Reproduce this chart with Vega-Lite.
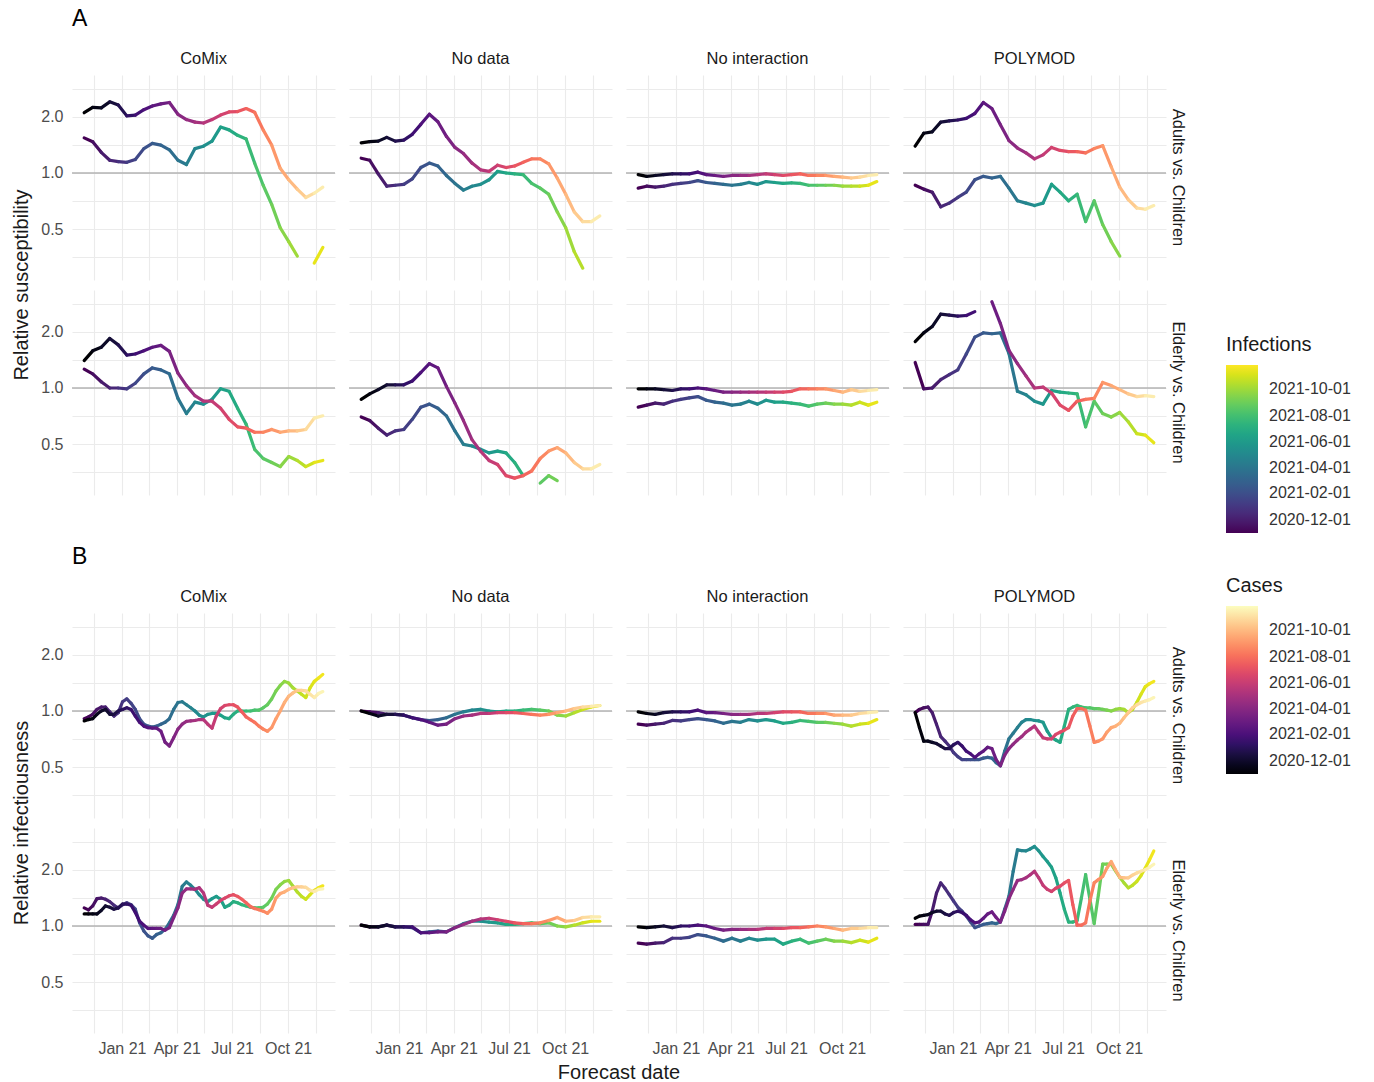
{
  "$schema": "https://vega.github.io/schema/vega-lite/v6.json",
  "background": "white",
  "padding": {"left": 11, "top": 7, "right": 5, "bottom": 0},
  "config": {
    "font": "Liberation Sans",
    "view": {"stroke": null},
    "axis": {"domain": false, "ticks": false, "grid": true, "gridColor": "#ebebeb", "gridWidth": 1.1, "labelFont": "Liberation Sans", "labelFontSize": 16, "labelColor": "#4d4d4d", "titleFont": "Liberation Sans", "titleFontSize": 20, "titleFontWeight": "normal", "titleColor": "#1a1a1a"},
    "header": {"labelFont": "Liberation Sans", "labelFontSize": 16.5, "labelColor": "#1a1a1a", "titleFont": "Liberation Sans", "titleFontSize": 20, "titleFontWeight": "normal", "titleColor": "#1a1a1a"},
    "legend": {"labelFont": "Liberation Sans", "labelFontSize": 16, "labelColor": "#333333", "titleFont": "Liberation Sans", "titleFontSize": 20, "titleFontWeight": "normal", "titleColor": "#1a1a1a", "gradientLength": 168, "gradientThickness": 32, "gradientStrokeWidth": 0, "labelOffset": 11, "titlePadding": 10},
    "title": {"anchor": "start", "fontSize": 23, "fontWeight": "normal", "font": "Liberation Sans", "color": "#000000", "frame": "group"}
  },
  "datasets": {
    "series": [
      {"key": "A_CM_Ad_C", "m": "CoMix", "r": "Adults vs. Children", "t": "Cases"},
      {"key": "A_CM_Ad_I", "m": "CoMix", "r": "Adults vs. Children", "t": "Infections"},
      {"key": "A_CM_Ad_I2", "m": "CoMix", "r": "Adults vs. Children", "t": "Infections"},
      {"key": "A_ND_Ad_C", "m": "No data", "r": "Adults vs. Children", "t": "Cases"},
      {"key": "A_ND_Ad_I", "m": "No data", "r": "Adults vs. Children", "t": "Infections"},
      {"key": "A_NI_Ad_C", "m": "No interaction", "r": "Adults vs. Children", "t": "Cases"},
      {"key": "A_NI_Ad_I", "m": "No interaction", "r": "Adults vs. Children", "t": "Infections"},
      {"key": "A_PM_Ad_C", "m": "POLYMOD", "r": "Adults vs. Children", "t": "Cases"},
      {"key": "A_PM_Ad_I", "m": "POLYMOD", "r": "Adults vs. Children", "t": "Infections"},
      {"key": "A_CM_El_C", "m": "CoMix", "r": "Elderly vs. Children", "t": "Cases"},
      {"key": "A_CM_El_I", "m": "CoMix", "r": "Elderly vs. Children", "t": "Infections"},
      {"key": "A_ND_El_C", "m": "No data", "r": "Elderly vs. Children", "t": "Cases"},
      {"key": "A_ND_El_I", "m": "No data", "r": "Elderly vs. Children", "t": "Infections"},
      {"key": "A_ND_El_I2", "m": "No data", "r": "Elderly vs. Children", "t": "Infections"},
      {"key": "A_NI_El_C", "m": "No interaction", "r": "Elderly vs. Children", "t": "Cases"},
      {"key": "A_NI_El_I", "m": "No interaction", "r": "Elderly vs. Children", "t": "Infections"},
      {"key": "A_PM_El_C", "m": "POLYMOD", "r": "Elderly vs. Children", "t": "Cases"},
      {"key": "A_PM_El_C2", "m": "POLYMOD", "r": "Elderly vs. Children", "t": "Cases"},
      {"key": "A_PM_El_I", "m": "POLYMOD", "r": "Elderly vs. Children", "t": "Infections"},
      {"key": "B_CM_Ad_C", "m": "CoMix", "r": "Adults vs. Children", "t": "Cases"},
      {"key": "B_CM_Ad_I", "m": "CoMix", "r": "Adults vs. Children", "t": "Infections"},
      {"key": "B_ND_Ad_C", "m": "No data", "r": "Adults vs. Children", "t": "Cases"},
      {"key": "B_ND_Ad_I", "m": "No data", "r": "Adults vs. Children", "t": "Infections"},
      {"key": "B_NI_Ad_C", "m": "No interaction", "r": "Adults vs. Children", "t": "Cases"},
      {"key": "B_NI_Ad_I", "m": "No interaction", "r": "Adults vs. Children", "t": "Infections"},
      {"key": "B_PM_Ad_C", "m": "POLYMOD", "r": "Adults vs. Children", "t": "Cases"},
      {"key": "B_PM_Ad_I", "m": "POLYMOD", "r": "Adults vs. Children", "t": "Infections"},
      {"key": "B_CM_El_C", "m": "CoMix", "r": "Elderly vs. Children", "t": "Cases"},
      {"key": "B_CM_El_I", "m": "CoMix", "r": "Elderly vs. Children", "t": "Infections"},
      {"key": "B_ND_El_C", "m": "No data", "r": "Elderly vs. Children", "t": "Cases"},
      {"key": "B_ND_El_I", "m": "No data", "r": "Elderly vs. Children", "t": "Infections"},
      {"key": "B_NI_El_C", "m": "No interaction", "r": "Elderly vs. Children", "t": "Cases"},
      {"key": "B_NI_El_I", "m": "No interaction", "r": "Elderly vs. Children", "t": "Infections"},
      {"key": "B_PM_El_C", "m": "POLYMOD", "r": "Elderly vs. Children", "t": "Cases"},
      {"key": "B_PM_El_I", "m": "POLYMOD", "r": "Elderly vs. Children", "t": "Infections"}
    ]
  },
  "data": {
    "format": {"parse": {"d": "date"}},
    "values": [
      {"d":"2020-10-31","A_CM_Ad_C":2.1,"A_CM_Ad_I":1.54,"A_ND_Ad_C":1.45,"A_ND_Ad_I":1.2,"A_NI_Ad_C":0.98,"A_NI_Ad_I":0.83,"A_PM_Ad_C":1.39,"A_PM_Ad_I":0.86,"A_CM_El_C":1.4,"A_CM_El_I":1.26,"A_ND_El_C":0.87,"A_ND_El_I":0.7,"A_NI_El_C":0.99,"A_NI_El_I":0.79,"A_PM_El_C":1.77,"A_PM_El_I":1.37,"B_ND_Ad_C":1.0,"B_ND_Ad_I":1.0,"B_NI_Ad_C":0.99,"B_NI_Ad_I":0.85,"B_ND_El_C":1.01,"B_ND_El_I":1.01,"B_NI_El_C":0.99,"B_NI_El_I":0.81,"B_CM_Ad_C":0.885,"B_CM_Ad_I":0.91,"B_PM_Ad_C":0.98,"B_PM_Ad_I":0.98,"B_CM_El_C":1.16,"B_CM_El_I":1.25,"B_PM_El_C":1.1,"B_PM_El_I":1.02},
      {"d":"2020-11-07","B_CM_Ad_C":0.9,"B_CM_Ad_I":0.93,"B_PM_Ad_C":0.815,"B_PM_Ad_I":1.02,"B_CM_El_C":1.16,"B_CM_El_I":1.22,"B_PM_El_C":1.13,"B_PM_El_I":1.02},
      {"d":"2020-11-14","A_CM_Ad_C":2.24,"A_CM_Ad_I":1.47,"A_ND_Ad_C":1.47,"A_ND_Ad_I":1.17,"A_NI_Ad_C":0.96,"A_NI_Ad_I":0.85,"A_PM_Ad_C":1.63,"A_PM_Ad_I":0.82,"A_CM_El_C":1.58,"A_CM_El_I":1.19,"A_ND_El_C":0.93,"A_ND_El_I":0.67,"A_NI_El_C":0.99,"A_NI_El_I":0.81,"A_PM_El_C":1.97,"A_PM_El_I":0.99,"B_ND_Ad_C":0.97,"B_ND_Ad_I":0.99,"B_NI_Ad_C":0.97,"B_NI_Ad_I":0.84,"B_ND_El_C":0.99,"B_ND_El_I":0.99,"B_NI_El_C":0.98,"B_NI_El_I":0.8,"B_CM_Ad_C":0.91,"B_CM_Ad_I":0.96,"B_PM_Ad_C":0.69,"B_PM_Ad_I":1.04,"B_CM_El_C":1.16,"B_CM_El_I":1.28,"B_PM_El_C":1.14,"B_PM_El_I":1.02},
      {"d":"2020-11-21","B_CM_Ad_C":0.96,"B_CM_Ad_I":1.02,"B_PM_Ad_C":0.69,"B_PM_Ad_I":1.05,"B_CM_El_C":1.16,"B_CM_El_I":1.4,"B_PM_El_C":1.15,"B_PM_El_I":1.02},
      {"d":"2020-11-28","A_CM_Ad_C":2.23,"A_CM_Ad_I":1.29,"A_ND_Ad_C":1.48,"A_ND_Ad_I":0.99,"A_NI_Ad_C":0.97,"A_NI_Ad_I":0.84,"A_PM_Ad_C":1.66,"A_PM_Ad_I":0.79,"A_CM_El_C":1.65,"A_CM_El_I":1.08,"A_ND_El_C":0.98,"A_ND_El_I":0.61,"A_NI_El_C":0.99,"A_NI_El_I":0.83,"A_PM_El_C":2.13,"A_PM_El_I":1.0,"B_ND_Ad_C":0.94,"B_ND_Ad_I":0.98,"B_NI_Ad_C":0.96,"B_NI_Ad_I":0.85,"B_ND_El_C":0.99,"B_ND_El_I":0.99,"B_NI_El_C":0.99,"B_NI_El_I":0.81,"B_CM_Ad_C":1.0,"B_CM_Ad_I":1.05,"B_PM_Ad_C":0.68,"B_PM_Ad_I":0.98,"B_CM_El_C":1.21,"B_CM_El_I":1.41,"B_PM_El_C":1.18,"B_PM_El_I":1.2},
      {"d":"2020-12-05","B_CM_Ad_C":1.02,"B_CM_Ad_I":1.05,"B_PM_Ad_C":0.67,"B_PM_Ad_I":0.85,"B_CM_El_C":1.28,"B_CM_El_I":1.39,"B_PM_El_C":1.2,"B_PM_El_I":1.5},
      {"d":"2020-12-12","A_CM_Ad_C":2.4,"A_CM_Ad_I":1.17,"A_ND_Ad_C":1.55,"A_ND_Ad_I":0.85,"A_NI_Ad_C":0.98,"A_NI_Ad_I":0.85,"A_PM_Ad_C":1.87,"A_PM_Ad_I":0.66,"A_CM_El_C":1.84,"A_CM_El_I":1.0,"A_ND_El_C":1.04,"A_ND_El_I":0.56,"A_NI_El_C":0.98,"A_NI_El_I":0.82,"A_PM_El_C":2.48,"A_PM_El_I":1.11,"B_ND_Ad_C":0.96,"B_ND_Ad_I":0.96,"B_NI_Ad_C":0.98,"B_NI_Ad_I":0.86,"B_ND_El_C":1.01,"B_ND_El_I":1.01,"B_NI_El_C":1.0,"B_NI_El_I":0.815,"B_CM_Ad_C":0.96,"B_CM_Ad_I":0.99,"B_PM_Ad_C":0.65,"B_PM_Ad_I":0.73,"B_CM_El_C":1.26,"B_CM_El_I":1.35,"B_PM_El_C":1.2,"B_PM_El_I":1.7},
      {"d":"2020-12-19","B_CM_Ad_C":0.96,"B_CM_Ad_I":0.94,"B_PM_Ad_C":0.63,"B_PM_Ad_I":0.69,"B_CM_El_C":1.23,"B_CM_El_I":1.29,"B_PM_El_C":1.16,"B_PM_El_I":1.59},
      {"d":"2020-12-26","A_CM_Ad_C":2.31,"A_CM_Ad_I":1.15,"A_ND_Ad_C":1.48,"A_ND_Ad_I":0.86,"A_NI_Ad_C":0.99,"A_NI_Ad_I":0.87,"A_PM_Ad_C":1.9,"A_PM_Ad_I":0.69,"A_CM_El_C":1.7,"A_CM_El_I":1.0,"A_ND_El_C":1.04,"A_ND_El_I":0.59,"A_NI_El_C":0.97,"A_NI_El_I":0.85,"A_PM_El_C":2.45,"A_PM_El_I":1.18,"B_ND_Ad_C":0.96,"B_ND_Ad_I":0.96,"B_NI_Ad_C":0.99,"B_NI_Ad_I":0.89,"B_ND_El_C":0.99,"B_ND_El_I":0.99,"B_NI_El_C":0.98,"B_NI_El_I":0.86,"B_CM_Ad_C":1.0,"B_CM_Ad_I":0.98,"B_PM_Ad_C":0.63,"B_PM_Ad_I":0.65,"B_CM_El_C":1.25,"B_CM_El_I":1.25,"B_PM_El_C":1.14,"B_PM_El_I":1.47},
      {"d":"2021-01-02","B_CM_Ad_C":1.02,"B_CM_Ad_I":1.12,"B_PM_Ad_C":0.66,"B_PM_Ad_I":0.6,"B_CM_El_C":1.31,"B_CM_El_I":1.3,"B_PM_El_C":1.18,"B_PM_El_I":1.36},
      {"d":"2021-01-09","A_CM_Ad_C":2.02,"A_CM_Ad_I":1.14,"A_ND_Ad_C":1.5,"A_ND_Ad_I":0.87,"A_NI_Ad_C":0.99,"A_NI_Ad_I":0.88,"A_PM_Ad_C":1.92,"A_PM_Ad_I":0.74,"A_CM_El_C":1.5,"A_CM_El_I":0.99,"A_ND_El_C":1.04,"A_ND_El_I":0.6,"A_NI_El_C":0.99,"A_NI_El_I":0.87,"A_PM_El_C":2.42,"A_PM_El_I":1.25,"B_ND_Ad_C":0.95,"B_ND_Ad_I":0.95,"B_NI_Ad_C":0.99,"B_NI_Ad_I":0.885,"B_ND_El_C":0.99,"B_ND_El_I":0.99,"B_NI_El_C":1.0,"B_NI_El_I":0.86,"B_CM_Ad_C":1.04,"B_CM_Ad_I":1.16,"B_PM_Ad_C":0.68,"B_PM_Ad_I":0.57,"B_CM_El_C":1.31,"B_CM_El_I":1.33,"B_PM_El_C":1.2,"B_PM_El_I":1.26},
      {"d":"2021-01-16","B_CM_Ad_C":1.02,"B_CM_Ad_I":1.1,"B_PM_Ad_C":0.65,"B_PM_Ad_I":0.55,"B_CM_El_C":1.29,"B_CM_El_I":1.3,"B_PM_El_C":1.18,"B_PM_El_I":1.2},
      {"d":"2021-01-23","A_CM_Ad_C":2.04,"A_CM_Ad_I":1.18,"A_ND_Ad_C":1.61,"A_ND_Ad_I":0.93,"A_NI_Ad_C":0.99,"A_NI_Ad_I":0.89,"A_PM_Ad_C":1.96,"A_PM_Ad_I":0.79,"A_CM_El_C":1.52,"A_CM_El_I":1.06,"A_ND_El_C":1.09,"A_ND_El_I":0.68,"A_NI_El_C":0.99,"A_NI_El_I":0.885,"A_PM_El_C":2.44,"A_PM_El_I":1.52,"B_ND_Ad_C":0.92,"B_ND_Ad_I":0.92,"B_NI_Ad_C":0.99,"B_NI_Ad_I":0.9,"B_ND_El_C":0.99,"B_ND_El_I":0.98,"B_NI_El_C":1.0,"B_NI_El_I":0.87,"B_CM_Ad_C":0.94,"B_CM_Ad_I":1.02,"B_PM_Ad_C":0.61,"B_PM_Ad_I":0.55,"B_CM_El_C":1.18,"B_CM_El_I":1.23,"B_PM_El_C":1.14,"B_PM_El_I":1.13},
      {"d":"2021-01-30","B_CM_Ad_C":0.87,"B_CM_Ad_I":0.91,"B_PM_Ad_C":0.59,"B_PM_Ad_I":0.55,"B_CM_El_C":1.06,"B_CM_El_I":1.04,"B_PM_El_C":1.08,"B_PM_El_I":1.05},
      {"d":"2021-02-06","A_CM_Ad_C":2.18,"A_CM_Ad_I":1.35,"A_ND_Ad_C":1.82,"A_ND_Ad_I":1.07,"A_NI_Ad_C":1.01,"A_NI_Ad_I":0.91,"A_PM_Ad_C":2.08,"A_PM_Ad_I":0.92,"A_CM_El_C":1.58,"A_CM_El_I":1.19,"A_ND_El_C":1.21,"A_ND_El_I":0.79,"A_NI_El_C":1.0,"A_NI_El_I":0.9,"A_PM_El_C":2.56,"A_PM_El_I":1.87,"B_ND_Ad_C":0.9,"B_ND_Ad_I":0.9,"B_NI_Ad_C":1.01,"B_NI_Ad_I":0.91,"B_ND_El_C":0.92,"B_ND_El_I":0.92,"B_NI_El_C":1.01,"B_NI_El_I":0.9,"B_CM_Ad_C":0.83,"B_CM_Ad_I":0.85,"B_PM_Ad_C":0.565,"B_PM_Ad_I":0.55,"B_CM_El_C":1.01,"B_CM_El_I":0.94,"B_PM_El_C":1.04,"B_PM_El_I":0.98},
      {"d":"2021-02-13","B_CM_Ad_C":0.815,"B_CM_Ad_I":0.83,"B_PM_Ad_C":0.59,"B_PM_Ad_I":0.55,"B_CM_El_C":0.97,"B_CM_El_I":0.885,"B_PM_El_C":1.05,"B_PM_El_I":1.0},
      {"d":"2021-02-20","A_CM_Ad_C":2.28,"A_CM_Ad_I":1.44,"A_ND_Ad_C":2.06,"A_ND_Ad_I":1.13,"A_NI_Ad_C":0.98,"A_NI_Ad_I":0.89,"A_PM_Ad_C":2.38,"A_PM_Ad_I":0.96,"A_CM_El_C":1.65,"A_CM_El_I":1.28,"A_ND_El_C":1.35,"A_ND_El_I":0.82,"A_NI_El_C":0.99,"A_NI_El_I":0.86,"A_PM_El_I":1.97,"B_ND_Ad_C":0.87,"B_ND_Ad_I":0.89,"B_NI_Ad_C":0.98,"B_NI_Ad_I":0.9,"B_ND_El_C":0.92,"B_ND_El_I":0.93,"B_NI_El_C":1.0,"B_NI_El_I":0.885,"B_CM_Ad_C":0.81,"B_CM_Ad_I":0.82,"B_PM_Ad_C":0.61,"B_PM_Ad_I":0.56,"B_CM_El_C":0.97,"B_CM_El_I":0.86,"B_PM_El_C":1.1,"B_PM_El_I":1.02},
      {"d":"2021-02-27","B_CM_Ad_C":0.81,"B_CM_Ad_I":0.83,"B_PM_Ad_C":0.64,"B_PM_Ad_I":0.565,"B_CM_El_C":0.97,"B_CM_El_I":0.9,"B_PM_El_C":1.16,"B_PM_El_I":1.03},
      {"d":"2021-03-06","A_CM_Ad_C":2.34,"A_CM_Ad_I":1.41,"A_ND_Ad_C":1.88,"A_ND_Ad_I":1.09,"A_NI_Ad_C":0.97,"A_NI_Ad_I":0.88,"A_PM_Ad_C":2.21,"A_PM_Ad_I":0.94,"A_CM_El_C":1.69,"A_CM_El_I":1.25,"A_ND_El_C":1.28,"A_ND_El_I":0.78,"A_NI_El_C":0.97,"A_NI_El_I":0.84,"A_PM_El_C2":2.89,"A_PM_El_I":1.95,"B_ND_Ad_C":0.84,"B_ND_Ad_I":0.9,"B_NI_Ad_C":0.98,"B_NI_Ad_I":0.885,"B_ND_El_C":0.93,"B_ND_El_I":0.94,"B_NI_El_C":0.97,"B_NI_El_I":0.86,"B_CM_Ad_C":0.78,"B_CM_Ad_I":0.85,"B_PM_Ad_C":0.63,"B_PM_Ad_I":0.56,"B_CM_El_C":0.97,"B_CM_El_I":0.92,"B_PM_El_C":1.19,"B_PM_El_I":1.04},
      {"d":"2021-03-13","B_CM_Ad_C":0.68,"B_CM_Ad_I":0.87,"B_PM_Ad_C":0.55,"B_PM_Ad_I":0.53,"B_CM_El_C":0.95,"B_CM_El_I":0.96,"B_PM_El_C":1.11,"B_PM_El_I":1.03},
      {"d":"2021-03-20","A_CM_Ad_C":2.38,"A_CM_Ad_I":1.33,"A_ND_Ad_C":1.57,"A_ND_Ad_I":0.97,"A_NI_Ad_C":0.96,"A_NI_Ad_I":0.87,"A_PM_Ad_C":1.81,"A_PM_Ad_I":0.96,"A_CM_El_C":1.57,"A_CM_El_I":1.19,"A_ND_El_C":1.02,"A_ND_El_I":0.71,"A_NI_El_C":0.95,"A_NI_El_I":0.83,"A_PM_El_C2":2.21,"A_PM_El_I":1.97,"B_ND_Ad_C":0.85,"B_ND_Ad_I":0.92,"B_NI_Ad_C":0.97,"B_NI_Ad_I":0.86,"B_ND_El_C":0.93,"B_ND_El_I":0.93,"B_NI_El_C":0.95,"B_NI_El_I":0.83,"B_CM_Ad_C":0.65,"B_CM_Ad_I":0.91,"B_PM_Ad_C":0.51,"B_PM_Ad_I":0.51,"B_CM_El_C":0.98,"B_CM_El_I":1.04,"B_PM_El_C":1.05,"B_PM_El_I":1.05},
      {"d":"2021-03-27","B_CM_Ad_C":0.72,"B_CM_Ad_I":1.02,"B_PM_Ad_C":0.58,"B_PM_Ad_I":0.61,"B_CM_El_C":1.11,"B_CM_El_I":1.14,"B_PM_El_C":1.2,"B_PM_El_I":1.23},
      {"d":"2021-04-03","A_CM_Ad_C":2.06,"A_CM_Ad_I":1.17,"A_ND_Ad_C":1.37,"A_ND_Ad_I":0.88,"A_NI_Ad_C":0.97,"A_NI_Ad_I":0.86,"A_PM_Ad_C":1.49,"A_PM_Ad_I":0.83,"A_CM_El_C":1.2,"A_CM_El_I":0.88,"A_ND_El_C":0.83,"A_ND_El_I":0.59,"A_NI_El_C":0.95,"A_NI_El_I":0.81,"A_PM_El_C2":1.59,"A_PM_El_I":1.53,"B_ND_Ad_C":0.91,"B_ND_Ad_I":0.96,"B_NI_Ad_C":0.96,"B_NI_Ad_I":0.88,"B_ND_El_C":0.98,"B_ND_El_I":0.98,"B_NI_El_C":0.96,"B_NI_El_I":0.86,"B_CM_Ad_C":0.8,"B_CM_Ad_I":1.11,"B_PM_Ad_C":0.63,"B_PM_Ad_I":0.71,"B_CM_El_C":1.25,"B_CM_El_I":1.3,"B_PM_El_C":1.4,"B_PM_El_I":1.44},
      {"d":"2021-04-10","B_CM_Ad_C":0.85,"B_CM_Ad_I":1.12,"B_PM_Ad_C":0.665,"B_PM_Ad_I":0.76,"B_CM_El_C":1.5,"B_CM_El_I":1.63,"B_PM_El_C":1.57,"B_PM_El_I":1.96},
      {"d":"2021-04-17","A_CM_Ad_C":1.93,"A_CM_Ad_I":1.11,"A_ND_Ad_C":1.27,"A_ND_Ad_I":0.81,"A_NI_Ad_C":0.97,"A_NI_Ad_I":0.87,"A_PM_Ad_C":1.36,"A_PM_Ad_I":0.71,"A_CM_El_C":1.03,"A_CM_El_I":0.73,"A_ND_El_C":0.67,"A_ND_El_I":0.5,"A_NI_El_C":0.95,"A_NI_El_I":0.82,"A_PM_El_C2":1.35,"A_PM_El_I":0.96,"B_ND_Ad_C":0.94,"B_ND_Ad_I":0.99,"B_NI_Ad_C":0.96,"B_NI_Ad_I":0.87,"B_ND_El_C":1.02,"B_ND_El_I":1.03,"B_NI_El_C":0.96,"B_NI_El_I":0.83,"B_CM_Ad_C":0.88,"B_CM_Ad_I":1.08,"B_PM_Ad_C":0.7,"B_PM_Ad_I":0.815,"B_CM_El_C":1.58,"B_CM_El_I":1.72,"B_PM_El_C":1.75,"B_PM_El_I":2.55},
      {"d":"2021-04-24","B_CM_Ad_C":0.885,"B_CM_Ad_I":1.04,"B_PM_Ad_C":0.73,"B_PM_Ad_I":0.87,"B_CM_El_C":1.58,"B_CM_El_I":1.65,"B_PM_El_C":1.77,"B_PM_El_I":2.53},
      {"d":"2021-05-01","A_CM_Ad_C":1.87,"A_CM_Ad_I":1.35,"A_ND_Ad_C":1.13,"A_ND_Ad_I":0.85,"A_NI_Ad_C":0.97,"A_NI_Ad_I":0.89,"A_PM_Ad_C":1.28,"A_PM_Ad_I":0.69,"A_CM_El_C":0.91,"A_CM_El_I":0.84,"A_ND_El_C":0.53,"A_ND_El_I":0.49,"A_NI_El_C":0.95,"A_NI_El_I":0.85,"A_PM_El_C2":1.16,"A_PM_El_I":0.92,"B_ND_Ad_C":0.95,"B_ND_Ad_I":1.01,"B_NI_Ad_C":0.96,"B_NI_Ad_I":0.9,"B_ND_El_C":1.06,"B_ND_El_I":1.06,"B_NI_El_C":0.96,"B_NI_El_I":0.86,"B_CM_Ad_C":0.89,"B_CM_Ad_I":1.0,"B_PM_Ad_C":0.77,"B_PM_Ad_I":0.9,"B_CM_El_C":1.57,"B_CM_El_I":1.57,"B_PM_El_C":1.81,"B_PM_El_I":2.52},
      {"d":"2021-05-08","B_CM_Ad_C":0.9,"B_CM_Ad_I":0.95,"B_PM_Ad_C":0.8,"B_PM_Ad_I":0.9,"B_CM_El_C":1.6,"B_CM_El_I":1.47,"B_PM_El_C":1.88,"B_PM_El_I":2.58},
      {"d":"2021-05-15","A_CM_Ad_C":1.85,"A_CM_Ad_I":1.39,"A_ND_Ad_C":1.04,"A_ND_Ad_I":0.87,"A_NI_Ad_C":0.98,"A_NI_Ad_I":0.87,"A_PM_Ad_C":1.19,"A_PM_Ad_I":0.67,"A_CM_El_C":0.85,"A_CM_El_I":0.82,"A_ND_El_C":0.46,"A_ND_El_I":0.47,"A_NI_El_C":0.95,"A_NI_El_I":0.82,"A_PM_El_C2":1.0,"A_PM_El_I":0.85,"B_ND_Ad_C":0.97,"B_ND_Ad_I":1.02,"B_NI_Ad_C":0.97,"B_NI_Ad_I":0.885,"B_ND_El_C":1.09,"B_ND_El_I":1.06,"B_NI_El_C":0.96,"B_NI_El_I":0.84,"B_CM_Ad_C":0.9,"B_CM_Ad_I":0.93,"B_PM_Ad_C":0.83,"B_PM_Ad_I":0.89,"B_CM_El_C":1.5,"B_CM_El_I":1.39,"B_PM_El_C":1.96,"B_PM_El_I":2.66},
      {"d":"2021-05-22","B_CM_Ad_C":0.85,"B_CM_Ad_I":0.96,"B_PM_Ad_C":0.77,"B_PM_Ad_I":0.885,"B_CM_El_C":1.29,"B_CM_El_I":1.35,"B_PM_El_C":1.81,"B_PM_El_I":2.52},
      {"d":"2021-05-29","A_CM_Ad_C":1.93,"A_CM_Ad_I":1.48,"A_ND_Ad_C":1.02,"A_ND_Ad_I":0.92,"A_NI_Ad_C":0.99,"A_NI_Ad_I":0.9,"A_PM_Ad_C":1.25,"A_PM_Ad_I":0.69,"A_CM_El_C":0.85,"A_CM_El_I":0.87,"A_ND_El_C":0.41,"A_ND_El_I":0.45,"A_NI_El_C":0.95,"A_NI_El_I":0.86,"A_PM_El_C2":1.01,"A_PM_El_I":0.82,"B_ND_Ad_C":0.97,"B_ND_Ad_I":1.0,"B_NI_Ad_C":0.97,"B_NI_Ad_I":0.9,"B_ND_El_C":1.1,"B_ND_El_I":1.05,"B_NI_El_C":0.97,"B_NI_El_I":0.85,"B_CM_Ad_C":0.81,"B_CM_Ad_I":0.97,"B_PM_Ad_C":0.72,"B_PM_Ad_I":0.87,"B_CM_El_C":1.26,"B_CM_El_I":1.4,"B_PM_El_C":1.65,"B_PM_El_I":2.35},
      {"d":"2021-06-05","B_CM_Ad_C":0.94,"B_CM_Ad_I":0.97,"B_PM_Ad_C":0.71,"B_PM_Ad_I":0.78,"B_CM_El_C":1.31,"B_CM_El_I":1.44,"B_PM_El_C":1.57,"B_PM_El_I":2.21},
      {"d":"2021-06-12","A_CM_Ad_C":2.04,"A_CM_Ad_I":1.76,"A_ND_Ad_C":1.1,"A_ND_Ad_I":1.02,"A_NI_Ad_C":0.98,"A_NI_Ad_I":0.89,"A_PM_Ad_C":1.37,"A_PM_Ad_I":0.87,"A_CM_El_C":0.78,"A_CM_El_I":0.99,"A_ND_El_C":0.39,"A_ND_El_I":0.46,"A_NI_El_C":0.95,"A_NI_El_I":0.84,"A_PM_El_C2":0.94,"A_PM_El_I":0.97,"B_ND_Ad_C":0.98,"B_ND_Ad_I":0.99,"B_NI_Ad_C":0.98,"B_NI_Ad_I":0.885,"B_ND_El_C":1.08,"B_ND_El_I":1.04,"B_NI_El_C":0.97,"B_NI_El_I":0.85,"B_CM_Ad_C":1.03,"B_CM_Ad_I":0.95,"B_PM_Ad_C":0.71,"B_PM_Ad_I":0.72,"B_CM_El_C":1.37,"B_CM_El_I":1.39,"B_PM_El_C":1.53,"B_PM_El_I":2.06},
      {"d":"2021-06-19","B_CM_Ad_C":1.07,"B_CM_Ad_I":0.92,"B_PM_Ad_C":0.75,"B_PM_Ad_I":0.7,"B_CM_El_C":1.41,"B_CM_El_I":1.26,"B_PM_El_C":1.59,"B_PM_El_I":1.81},
      {"d":"2021-06-26","A_CM_Ad_C":2.12,"A_CM_Ad_I":1.7,"A_ND_Ad_C":1.07,"A_ND_Ad_I":1.0,"A_NI_Ad_C":0.97,"A_NI_Ad_I":0.88,"A_PM_Ad_C":1.32,"A_PM_Ad_I":0.79,"A_CM_El_C":0.68,"A_CM_El_I":0.96,"A_ND_El_C":0.34,"A_ND_El_I":0.45,"A_NI_El_C":0.95,"A_NI_El_I":0.84,"A_PM_El_C2":0.81,"A_PM_El_I":0.95,"B_ND_Ad_C":0.98,"B_ND_Ad_I":1.0,"B_NI_Ad_C":0.99,"B_NI_Ad_I":0.86,"B_ND_El_C":1.06,"B_ND_El_I":1.02,"B_NI_El_C":0.97,"B_NI_El_I":0.8,"B_CM_Ad_C":1.08,"B_CM_Ad_I":0.91,"B_PM_Ad_C":0.77,"B_PM_Ad_I":0.68,"B_CM_El_C":1.45,"B_CM_El_I":1.29,"B_PM_El_C":1.63,"B_PM_El_I":1.5},
      {"d":"2021-07-03","B_CM_Ad_C":1.08,"B_CM_Ad_I":0.96,"B_PM_Ad_C":0.79,"B_PM_Ad_I":0.83,"B_CM_El_C":1.47,"B_CM_El_I":1.35,"B_PM_El_C":1.7,"B_PM_El_I":1.23},
      {"d":"2021-07-10","A_CM_Ad_C":2.13,"A_CM_Ad_I":1.59,"A_ND_Ad_C":1.09,"A_ND_Ad_I":0.99,"A_NI_Ad_C":0.98,"A_NI_Ad_I":0.885,"A_PM_Ad_C":1.3,"A_PM_Ad_I":0.71,"A_CM_El_C":0.62,"A_CM_El_I":0.78,"A_ND_El_C":0.33,"A_ND_El_I":0.4,"A_NI_El_C":0.96,"A_NI_El_I":0.83,"A_PM_El_C2":0.76,"A_PM_El_I":0.94,"B_ND_Ad_C":0.98,"B_ND_Ad_I":1.0,"B_NI_Ad_C":0.99,"B_NI_Ad_I":0.87,"B_ND_El_C":1.04,"B_ND_El_I":1.02,"B_NI_El_C":0.98,"B_NI_El_I":0.83,"B_CM_Ad_C":1.05,"B_CM_Ad_I":1.0,"B_PM_Ad_C":0.815,"B_PM_Ad_I":1.02,"B_CM_El_C":1.44,"B_CM_El_I":1.33,"B_PM_El_C":1.75,"B_PM_El_I":1.05},
      {"d":"2021-07-17","B_CM_Ad_C":0.99,"B_CM_Ad_I":1.0,"B_PM_Ad_C":0.94,"B_PM_Ad_I":1.05,"B_CM_El_C":1.39,"B_CM_El_I":1.3,"B_PM_El_C":1.3,"B_PM_El_I":1.05},
      {"d":"2021-07-24","A_CM_Ad_C":2.21,"A_CM_Ad_I":1.52,"A_ND_Ad_C":1.14,"A_ND_Ad_I":0.98,"A_NI_Ad_C":0.99,"A_NI_Ad_I":0.88,"A_PM_Ad_C":1.3,"A_PM_Ad_I":0.77,"A_CM_El_C":0.61,"A_CM_El_I":0.64,"A_ND_El_C":0.34,"A_ND_El_I":0.34,"A_NI_El_C":0.99,"A_NI_El_I":0.82,"A_PM_El_C2":0.85,"A_PM_El_I":0.93,"B_ND_Ad_C":0.97,"B_ND_Ad_I":1.01,"B_NI_Ad_C":0.99,"B_NI_Ad_I":0.89,"B_ND_El_C":1.03,"B_ND_El_I":1.03,"B_NI_El_C":0.98,"B_NI_El_I":0.85,"B_CM_Ad_C":0.93,"B_CM_Ad_I":1.0,"B_PM_Ad_C":1.03,"B_PM_Ad_I":1.07,"B_CM_El_C":1.33,"B_CM_El_I":1.28,"B_PM_El_C":1.01,"B_PM_El_I":1.07},
      {"d":"2021-07-31","B_CM_Ad_C":0.9,"B_CM_Ad_I":1.0,"B_PM_Ad_C":1.03,"B_PM_Ad_I":1.05,"B_CM_El_C":1.27,"B_CM_El_I":1.26,"B_PM_El_C":1.01,"B_PM_El_I":1.41},
      {"d":"2021-08-07","A_CM_Ad_C":2.11,"A_CM_Ad_I":1.13,"A_ND_Ad_C":1.19,"A_ND_Ad_I":0.88,"A_NI_Ad_C":0.97,"A_NI_Ad_I":0.86,"A_PM_Ad_C":1.28,"A_PM_Ad_I":0.55,"A_CM_El_C":0.58,"A_CM_El_I":0.47,"A_ND_El_C":0.36,"A_NI_El_C":0.99,"A_NI_El_I":0.8,"A_PM_El_C2":0.87,"A_PM_El_I":0.62,"B_ND_Ad_C":0.96,"B_ND_Ad_I":1.02,"B_NI_Ad_C":0.97,"B_NI_Ad_I":0.88,"B_ND_El_C":1.03,"B_ND_El_I":1.04,"B_NI_El_C":0.99,"B_NI_El_I":0.81,"B_CM_Ad_C":0.87,"B_CM_Ad_I":1.01,"B_PM_Ad_C":1.01,"B_PM_Ad_I":1.04,"B_CM_El_C":1.24,"B_CM_El_I":1.25,"B_PM_El_C":1.04,"B_PM_El_I":1.88},
      {"d":"2021-08-14","B_CM_Ad_C":0.83,"B_CM_Ad_I":1.01,"B_PM_Ad_C":0.83,"B_PM_Ad_I":1.04,"B_CM_El_C":1.22,"B_CM_El_I":1.25,"B_PM_El_C":1.36,"B_PM_El_I":1.39},
      {"d":"2021-08-21","A_CM_Ad_C":1.7,"A_CM_Ad_I":0.86,"A_ND_Ad_C":1.19,"A_ND_Ad_I":0.83,"A_NI_Ad_C":0.97,"A_NI_Ad_I":0.86,"A_PM_Ad_C":1.35,"A_PM_Ad_I":0.71,"A_CM_El_C":0.58,"A_CM_El_I":0.42,"A_ND_El_C":0.42,"A_ND_El_I2":0.31,"A_NI_El_C":0.99,"A_NI_El_I":0.82,"A_PM_El_C2":0.88,"A_PM_El_I":0.85,"B_ND_Ad_C":0.95,"B_ND_Ad_I":1.01,"B_NI_Ad_C":0.97,"B_NI_Ad_I":0.87,"B_ND_El_C":1.04,"B_ND_El_I":1.03,"B_NI_El_C":1.0,"B_NI_El_I":0.83,"B_CM_Ad_C":0.8,"B_CM_Ad_I":1.04,"B_PM_Ad_C":0.68,"B_PM_Ad_I":1.03,"B_CM_El_C":1.2,"B_CM_El_I":1.26,"B_PM_El_C":1.7,"B_PM_El_I":1.03},
      {"d":"2021-08-28","B_CM_Ad_C":0.78,"B_CM_Ad_I":1.08,"B_PM_Ad_C":0.69,"B_PM_Ad_I":1.03,"B_CM_El_C":1.17,"B_CM_El_I":1.31,"B_PM_El_C":1.77,"B_PM_El_I":1.47},
      {"d":"2021-09-04","A_CM_Ad_C":1.41,"A_CM_Ad_I":0.68,"A_ND_Ad_C":1.12,"A_ND_Ad_I":0.77,"A_NI_Ad_C":0.97,"A_NI_Ad_I":0.86,"A_PM_Ad_C":1.4,"A_PM_Ad_I":0.53,"A_CM_El_C":0.6,"A_CM_El_I":0.4,"A_ND_El_C":0.46,"A_ND_El_I2":0.34,"A_NI_El_C":0.99,"A_NI_El_I":0.83,"A_PM_El_C2":1.07,"A_PM_El_I":0.73,"B_ND_Ad_C":0.96,"B_ND_Ad_I":1.0,"B_NI_Ad_C":0.97,"B_NI_Ad_I":0.87,"B_ND_El_C":1.07,"B_ND_El_I":1.04,"B_NI_El_C":0.99,"B_NI_El_I":0.85,"B_CM_Ad_C":0.815,"B_CM_Ad_I":1.16,"B_PM_Ad_C":0.71,"B_PM_Ad_I":1.02,"B_CM_El_C":1.23,"B_CM_El_I":1.41,"B_PM_El_C":1.84,"B_PM_El_I":2.14},
      {"d":"2021-09-11","B_CM_Ad_C":0.91,"B_CM_Ad_I":1.28,"B_PM_Ad_C":0.77,"B_PM_Ad_I":1.01,"B_CM_El_C":1.41,"B_CM_El_I":1.57,"B_PM_El_C":2.04,"B_PM_El_I":2.14},
      {"d":"2021-09-18","A_CM_Ad_C":1.06,"A_CM_Ad_I":0.51,"A_ND_Ad_C":0.94,"A_ND_Ad_I":0.62,"A_NI_Ad_C":0.96,"A_NI_Ad_I":0.86,"A_PM_Ad_C":1.08,"A_PM_Ad_I":0.43,"A_CM_El_C":0.58,"A_CM_El_I":0.38,"A_ND_El_C":0.48,"A_ND_El_I2":0.32,"A_NI_El_C":0.97,"A_NI_El_I":0.82,"A_PM_El_C2":1.03,"A_PM_El_I":0.7,"B_ND_Ad_C":0.98,"B_ND_Ad_I":0.95,"B_NI_Ad_C":0.95,"B_NI_Ad_I":0.86,"B_ND_El_C":1.11,"B_ND_El_I":1.0,"B_NI_El_C":0.97,"B_NI_El_I":0.83,"B_CM_Ad_C":1.0,"B_CM_Ad_I":1.37,"B_PM_Ad_C":0.815,"B_PM_Ad_I":1.0,"B_CM_El_C":1.49,"B_CM_El_I":1.66,"B_PM_El_C":2.21,"B_PM_El_I":2.14},
      {"d":"2021-09-25","B_CM_Ad_C":1.11,"B_CM_Ad_I":1.44,"B_PM_Ad_C":0.83,"B_PM_Ad_I":1.02,"B_CM_El_C":1.52,"B_CM_El_I":1.73,"B_PM_El_C":2.0,"B_PM_El_I":1.97},
      {"d":"2021-10-02","A_CM_Ad_C":0.92,"A_CM_Ad_I":0.43,"A_ND_Ad_C":0.77,"A_ND_Ad_I":0.51,"A_NI_Ad_C":0.95,"A_NI_Ad_I":0.85,"A_PM_Ad_C":0.84,"A_PM_Ad_I":0.36,"A_CM_El_C":0.59,"A_CM_El_I":0.43,"A_ND_El_C":0.45,"A_NI_El_C":0.95,"A_NI_El_I":0.82,"A_PM_El_C2":0.98,"A_PM_El_I":0.74,"B_ND_Ad_C":1.0,"B_ND_Ad_I":0.94,"B_NI_Ad_C":0.95,"B_NI_Ad_I":0.85,"B_ND_El_C":1.06,"B_ND_El_I":0.99,"B_NI_El_C":0.95,"B_NI_El_I":0.83,"B_CM_Ad_C":1.2,"B_CM_Ad_I":1.41,"B_PM_Ad_C":0.86,"B_PM_Ad_I":1.03,"B_CM_El_C":1.57,"B_CM_El_I":1.75,"B_PM_El_C":1.82,"B_PM_El_I":1.82},
      {"d":"2021-10-09","B_CM_Ad_C":1.25,"B_CM_Ad_I":1.33,"B_PM_Ad_C":0.92,"B_PM_Ad_I":1.02,"B_CM_El_C":1.6,"B_CM_El_I":1.63,"B_PM_El_C":1.81,"B_PM_El_I":1.7},
      {"d":"2021-10-16","A_CM_Ad_C":0.82,"A_CM_Ad_I":0.36,"A_ND_Ad_C":0.62,"A_ND_Ad_I":0.38,"A_NI_Ad_C":0.94,"A_NI_Ad_I":0.85,"A_PM_Ad_C":0.72,"A_CM_El_C":0.59,"A_CM_El_I":0.41,"A_ND_El_C":0.4,"A_NI_El_C":0.98,"A_NI_El_I":0.81,"A_PM_El_C2":0.93,"A_PM_El_I":0.66,"B_ND_Ad_C":1.03,"B_ND_Ad_I":0.98,"B_NI_Ad_C":0.95,"B_NI_Ad_I":0.83,"B_ND_El_C":1.07,"B_ND_El_I":1.01,"B_NI_El_C":0.97,"B_NI_El_I":0.815,"B_CM_Ad_C":1.29,"B_CM_Ad_I":1.28,"B_PM_Ad_C":0.98,"B_PM_Ad_I":0.98,"B_CM_El_C":1.62,"B_CM_El_I":1.52,"B_PM_El_C":1.81,"B_PM_El_I":1.6},
      {"d":"2021-10-23","B_CM_Ad_C":1.29,"B_CM_Ad_I":1.23,"B_PM_Ad_C":1.04,"B_PM_Ad_I":1.02,"B_CM_El_C":1.62,"B_CM_El_I":1.44,"B_PM_El_C":1.87,"B_PM_El_I":1.65},
      {"d":"2021-10-30","A_CM_Ad_C":0.74,"A_ND_Ad_C":0.55,"A_ND_Ad_I":0.31,"A_NI_Ad_C":0.95,"A_NI_Ad_I":0.85,"A_PM_Ad_C":0.65,"A_CM_El_C":0.6,"A_CM_El_I":0.38,"A_ND_El_C":0.37,"A_NI_El_C":0.96,"A_NI_El_I":0.84,"A_PM_El_C2":0.9,"A_PM_El_I":0.57,"B_ND_Ad_C":1.05,"B_ND_Ad_I":1.02,"B_NI_Ad_C":0.97,"B_NI_Ad_I":0.85,"B_ND_El_C":1.11,"B_ND_El_I":1.04,"B_NI_El_C":0.97,"B_NI_El_I":0.84,"B_CM_Ad_C":1.28,"B_CM_Ad_I":1.18,"B_PM_Ad_C":1.08,"B_PM_Ad_I":1.11,"B_CM_El_C":1.61,"B_CM_El_I":1.39,"B_PM_El_C":1.92,"B_PM_El_I":1.73},
      {"d":"2021-11-06","B_CM_Ad_C":1.23,"B_CM_Ad_I":1.33,"B_PM_Ad_C":1.11,"B_PM_Ad_I":1.23,"B_CM_El_C":1.55,"B_CM_El_I":1.47,"B_PM_El_C":1.96,"B_PM_El_I":1.86},
      {"d":"2021-11-13","A_CM_Ad_C":0.78,"A_CM_Ad_I2":0.33,"A_ND_Ad_C":0.55,"A_NI_Ad_C":0.97,"A_NI_Ad_I":0.86,"A_PM_Ad_C":0.64,"A_CM_El_C":0.69,"A_CM_El_I":0.4,"A_ND_El_C":0.37,"A_NI_El_C":0.97,"A_NI_El_I":0.81,"A_PM_El_C2":0.91,"A_PM_El_I":0.56,"B_ND_Ad_C":1.06,"B_ND_Ad_I":1.05,"B_NI_Ad_C":0.98,"B_NI_Ad_I":0.86,"B_ND_El_C":1.12,"B_ND_El_I":1.06,"B_NI_El_C":0.98,"B_NI_El_I":0.82,"B_CM_Ad_C":1.18,"B_CM_Ad_I":1.44,"B_PM_Ad_C":1.13,"B_PM_Ad_I":1.35,"B_CM_El_C":1.53,"B_CM_El_I":1.55,"B_PM_El_C":2.0,"B_PM_El_I":2.04},
      {"d":"2021-11-20","B_CM_Ad_C":1.24,"B_CM_Ad_I":1.5,"B_PM_Ad_C":1.15,"B_PM_Ad_I":1.4,"B_CM_El_C":1.57,"B_CM_El_I":1.6,"B_PM_El_C":2.06,"B_PM_El_I":2.26},
      {"d":"2021-11-27","A_CM_Ad_C":0.84,"A_CM_Ad_I2":0.4,"A_ND_Ad_C":0.59,"A_NI_Ad_C":0.98,"A_NI_Ad_I":0.9,"A_PM_Ad_C":0.67,"A_CM_El_C":0.71,"A_CM_El_I":0.41,"A_ND_El_C":0.39,"A_NI_El_C":0.98,"A_NI_El_I":0.84,"A_PM_El_C2":0.9,"A_PM_El_I":0.51,"B_ND_Ad_C":1.07,"B_ND_Ad_I":1.07,"B_NI_Ad_C":0.99,"B_NI_Ad_I":0.9,"B_ND_El_C":1.12,"B_ND_El_I":1.06,"B_NI_El_C":0.98,"B_NI_El_I":0.86,"B_CM_Ad_C":1.27,"B_CM_Ad_I":1.57,"B_PM_Ad_C":1.18,"B_PM_Ad_I":1.44,"B_CM_El_C":1.58,"B_CM_El_I":1.64,"B_PM_El_C":2.14,"B_PM_El_I":2.52}
    ]
  },
  "spacing": 50,
  "vconcat": [
    {
      "title": {"text": "A", "offset": 20},
      "transform": [
        {"fold": ["A_CM_Ad_C","A_CM_Ad_I","A_CM_Ad_I2","A_ND_Ad_C","A_ND_Ad_I","A_NI_Ad_C","A_NI_Ad_I","A_PM_Ad_C","A_PM_Ad_I","A_CM_El_C","A_CM_El_I","A_ND_El_C","A_ND_El_I","A_ND_El_I2","A_NI_El_C","A_NI_El_I","A_PM_El_C","A_PM_El_C2","A_PM_El_I"], "as": ["key", "v"]},
        {"filter": "isValid(datum.v)"},
        {"lookup": "key", "from": {"data": {"name": "series"}, "key": "key", "fields": ["m", "r", "t"]}},
        {"window": [{"op": "lead", "field": "v", "as": "v2"}, {"op": "lead", "field": "d", "as": "d2"}], "groupby": ["key"], "sort": [{"field": "d", "order": "ascending"}]}
      ],
      "facet": {
        "column": {"field": "m", "type": "nominal", "title": null, "header": {"labelPadding": 8}},
        "row": {"field": "r", "type": "nominal", "title": "Relative susceptibility", "header": {"titleOrient": "left", "titlePadding": -2, "labelAngle": 90, "labelOrient": "right", "labelPadding": 2}}
      },
      "spacing": {"column": 12, "row": 10},
      "spec": {
        "width": 263,
        "height": 205,
        "layer": [
          {
            "transform": [{"aggregate": [{"op": "count", "as": "n"}], "groupby": ["m", "r"]}],
            "mark": {"type": "rule", "color": "#b3b3b3", "strokeWidth": 1.6},
            "encoding": {"y": {"datum": 1, "type": "quantitative", "axis": {"title": null, "grid": true, "tickCount": 30, "values": [0.3536, 0.5, 0.7071, 1, 1.4142, 2, 2.8284], "labelExpr": "datum.value == 0.5 || datum.value == 1 || datum.value == 2 ? format(datum.value, '.1f') : ''", "labelPadding": 8}}}
          },
          {
            "transform": [{"filter": "datum.t == 'Infections' && isValid(datum.v2)"}],
            "mark": {"type": "rule", "strokeWidth": 3.2, "strokeCap": "round"},
            "encoding": {
              "x": {"field": "d", "type": "temporal", "scale": {"type": "utc", "nice": false, "domain": [1602374400000, 1639699200000]}, "axis": {"title": null, "labels": false, "grid": true, "tickCount": 30, "labelOverlap": false, "values": [1605484800000, 1609459200000, 1613347200000, 1617235200000, 1621123200000, 1625097600000, 1629072000000, 1633046400000, 1637020800000]}},
              "x2": {"field": "d2"},
              "y": {"field": "v", "type": "quantitative", "scale": {"type": "log", "domain": [0.268, 3.34], "nice": false}, "axis": {"title": null, "grid": true, "tickCount": 30, "values": [0.3536, 0.5, 0.7071, 1, 1.4142, 2, 2.8284], "labelExpr": "datum.value == 0.5 || datum.value == 1 || datum.value == 2 ? format(datum.value, '.1f') : ''", "labelPadding": 8}},
              "y2": {"field": "v2"},
              "stroke": {"field": "d", "type": "quantitative", "title": "Infections", "scale": {"type": "linear", "scheme": "viridis", "zero": false, "nice": false, "domain": [1604102400000, 1637971200000]}, "legend": {"type": "gradient", "direction": "vertical", "orient": "none", "legendX": 1154, "legendY": 260, "labelOffset": 11, "labelExpr": "utcFormat(datum.value, '%Y-%m-%d')", "values": [1606780800000, 1612137600000, 1617235200000, 1622505600000, 1627776000000, 1633046400000]}}
            }
          },
          {
            "transform": [{"filter": "datum.t == 'Cases' && isValid(datum.v2)"}],
            "mark": {"type": "rule", "strokeWidth": 3.2, "strokeCap": "round"},
            "encoding": {
              "x": {"field": "d", "type": "temporal"},
              "x2": {"field": "d2"},
              "y": {"field": "v", "type": "quantitative"},
              "y2": {"field": "v2"},
              "color": {"field": "d", "type": "quantitative", "title": "Cases", "scale": {"type": "linear", "scheme": "magma", "zero": false, "nice": false, "domain": [1604102400000, 1637971200001]}, "legend": {"type": "gradient", "direction": "vertical", "orient": "none", "legendX": 1154, "legendY": 501, "labelOffset": 11, "labelExpr": "utcFormat(datum.value, '%Y-%m-%d')", "values": [1606780800000, 1612137600000, 1617235200000, 1622505600000, 1627776000000, 1633046400000]}}
            }
          }
        ]
      }
    },
    {
      "title": {"text": "B", "offset": 20},
      "transform": [
        {"fold": ["B_CM_Ad_C","B_CM_Ad_I","B_ND_Ad_C","B_ND_Ad_I","B_NI_Ad_C","B_NI_Ad_I","B_PM_Ad_C","B_PM_Ad_I","B_CM_El_C","B_CM_El_I","B_ND_El_C","B_ND_El_I","B_NI_El_C","B_NI_El_I","B_PM_El_C","B_PM_El_I"], "as": ["key", "v"]},
        {"filter": "isValid(datum.v)"},
        {"lookup": "key", "from": {"data": {"name": "series"}, "key": "key", "fields": ["m", "r", "t"]}},
        {"window": [{"op": "lead", "field": "v", "as": "v2"}, {"op": "lead", "field": "d", "as": "d2"}], "groupby": ["key"], "sort": [{"field": "d", "order": "ascending"}]}
      ],
      "facet": {
        "column": {"field": "m", "type": "nominal", "title": "Forecast date", "header": {"labelOrient": "top", "labelPadding": 8, "titleOrient": "bottom", "titlePadding": -3}},
        "row": {"field": "r", "type": "nominal", "title": "Relative infectiousness", "header": {"titleOrient": "left", "titlePadding": -2, "labelAngle": 90, "labelOrient": "right", "labelPadding": 2}}
      },
      "spacing": {"column": 12, "row": 10},
      "spec": {
        "width": 263,
        "height": 205,
        "layer": [
          {
            "transform": [{"aggregate": [{"op": "count", "as": "n"}], "groupby": ["m", "r"]}],
            "mark": {"type": "rule", "color": "#b3b3b3", "strokeWidth": 1.6},
            "encoding": {"y": {"datum": 1, "type": "quantitative", "axis": {"title": null, "grid": true, "tickCount": 30, "values": [0.3536, 0.5, 0.7071, 1, 1.4142, 2, 2.8284], "labelExpr": "datum.value == 0.5 || datum.value == 1 || datum.value == 2 ? format(datum.value, '.1f') : ''", "labelPadding": 8}}}
          },
          {
            "transform": [{"filter": "datum.t == 'Infections' && isValid(datum.v2)"}],
            "mark": {"type": "rule", "strokeWidth": 3.2, "strokeCap": "round"},
            "encoding": {
              "x": {"field": "d", "type": "temporal", "scale": {"type": "utc", "nice": false, "domain": [1602374400000, 1639699200000]}, "axis": {"title": null, "grid": true, "tickCount": 30, "labelPadding": 7, "labelOverlap": false, "labelFlush": false, "labelExpr": "utcdate(datum.value) == 1 ? utcFormat(datum.value, '%b %y') : ''", "values": [1605484800000, 1609459200000, 1613347200000, 1617235200000, 1621123200000, 1625097600000, 1629072000000, 1633046400000, 1637020800000]}},
              "x2": {"field": "d2"},
              "y": {"field": "v", "type": "quantitative", "scale": {"type": "log", "domain": [0.268, 3.34], "nice": false}, "axis": {"title": null, "grid": true, "tickCount": 30, "values": [0.3536, 0.5, 0.7071, 1, 1.4142, 2, 2.8284], "labelExpr": "datum.value == 0.5 || datum.value == 1 || datum.value == 2 ? format(datum.value, '.1f') : ''", "labelPadding": 8}},
              "y2": {"field": "v2"},
              "stroke": {"field": "d", "type": "quantitative", "title": "Infections", "scale": {"type": "linear", "scheme": "viridis", "zero": false, "nice": false, "domain": [1604102400000, 1637971200000]}, "legend": {"type": "gradient", "direction": "vertical", "orient": "none", "legendX": 1154, "legendY": 260, "labelOffset": 11, "labelExpr": "utcFormat(datum.value, '%Y-%m-%d')", "values": [1606780800000, 1612137600000, 1617235200000, 1622505600000, 1627776000000, 1633046400000]}}
            }
          },
          {
            "transform": [{"filter": "datum.t == 'Cases' && isValid(datum.v2)"}],
            "mark": {"type": "rule", "strokeWidth": 3.2, "strokeCap": "round"},
            "encoding": {
              "x": {"field": "d", "type": "temporal"},
              "x2": {"field": "d2"},
              "y": {"field": "v", "type": "quantitative"},
              "y2": {"field": "v2"},
              "color": {"field": "d", "type": "quantitative", "title": "Cases", "scale": {"type": "linear", "scheme": "magma", "zero": false, "nice": false, "domain": [1604102400000, 1637971200001]}, "legend": {"type": "gradient", "direction": "vertical", "orient": "none", "legendX": 1154, "legendY": 501, "labelOffset": 11, "labelExpr": "utcFormat(datum.value, '%Y-%m-%d')", "values": [1606780800000, 1612137600000, 1617235200000, 1622505600000, 1627776000000, 1633046400000]}}
            }
          }
        ]
      }
    }
  ]
}
